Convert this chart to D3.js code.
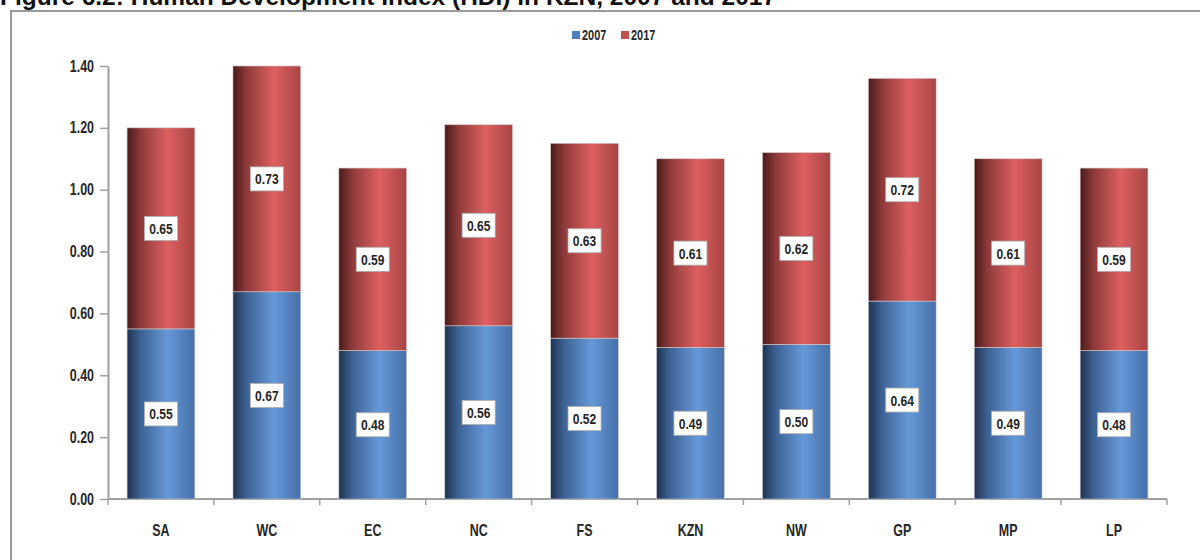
<!DOCTYPE html>
<html>
<head>
<meta charset="utf-8">
<script src="https://cdn.jsdelivr.net/npm/d3@7"></script>
<style>
  html, body { margin: 0; padding: 0; background: #fff; }
  svg { display: block; }
  .cond { font-family: "Liberation Sans", Arial, sans-serif; font-weight: bold; }
</style>
</head>
<body>
<svg id="chart" width="1200" height="560"></svg>
<script>
const categories = ["SA", "WC", "EC", "NC", "FS", "KZN", "NW", "GP", "MP", "LP"];
const series2007 = [0.55, 0.67, 0.48, 0.56, 0.52, 0.49, 0.50, 0.64, 0.49, 0.48];
const series2017 = [0.65, 0.73, 0.59, 0.65, 0.63, 0.61, 0.62, 0.72, 0.61, 0.59];
const seriesNames = ["2007", "2017"];
const yTicks = [0, 0.2, 0.4, 0.6, 0.8, 1.0, 1.2, 1.4];
const title = "Figure 6.2: Human Development Index (HDI) in KZN, 2007 and 2017";

const svg = d3.select("#chart");
const NARROW = 0.78;

// condensed text helper
function ctext(sel, x, y, txt, size, anchor) {
  return sel.append("text").attr("class", "cond").attr("font-size", size).attr("fill", "#262626")
    .attr("text-anchor", anchor || "start")
    .attr("transform", `translate(${x},${y}) scale(${NARROW},1)`).text(txt);
}

// gradients
const defs = svg.append("defs");
function grad(id, stops) {
  const g = defs.append("linearGradient").attr("id", id)
    .attr("x1", "0%").attr("x2", "100%").attr("y1", "0%").attr("y2", "0%");
  stops.forEach(s => g.append("stop").attr("offset", s[0]).attr("stop-color", s[1]));
}
grad("gBlue", [["0%", "#1f3350"], ["20%", "#3d6293"], ["60%", "#6698d8"], ["100%", "#4670a8"]]);
grad("gRed", [["0%", "#4a1a1a"], ["20%", "#8e3a3a"], ["60%", "#dd6060"], ["100%", "#a84444"]]);

// title and frame
svg.append("text").attr("x", 0).attr("y", 5)
  .attr("font-family", "Liberation Sans, Arial, sans-serif")
  .attr("font-weight", "bold").attr("font-size", 24.5).attr("fill", "#111")
  .text(title);
svg.append("rect").attr("x", 11).attr("y", 11).attr("width", 1200).attr("height", 560)
  .attr("fill", "none").attr("stroke", "#9a9a9a").attr("stroke-width", 2);

const x = d3.scaleBand().domain(categories).range([108, 1167]).paddingInner(0.36).paddingOuter(0.18);
const y = d3.scaleLinear().domain([0, 1.4]).range([499, 66]);

// y axis
const yAxis = svg.append("g").attr("transform", "translate(108,0)")
  .call(d3.axisLeft(y).tickValues(yTicks).tickFormat("").tickSize(8).tickSizeOuter(0));
yAxis.select(".domain").attr("stroke", "#a0a0a0").attr("stroke-width", 2);
yAxis.selectAll(".tick line").attr("stroke", "#a0a0a0").attr("stroke-width", 1.5);
const ylab = svg.append("g");
yTicks.forEach(t => ctext(ylab, 94, y(t) + 5.5, d3.format(".2f")(t), 16, "end"));

// x axis
const bounds = categories.map((c, i) => 108 + i * (1167 - 108) / categories.length).concat([1167]);
const xg = svg.append("g");
xg.append("line").attr("x1", 108).attr("x2", 1167).attr("y1", 499).attr("y2", 499)
  .attr("stroke", "#a0a0a0").attr("stroke-width", 2);
xg.selectAll("line.t").data(bounds).enter().append("line")
  .attr("x1", d => d).attr("x2", d => d).attr("y1", 499).attr("y2", 505)
  .attr("stroke", "#a0a0a0").attr("stroke-width", 1.5);
categories.forEach(c => ctext(xg, x(c) + x.bandwidth() / 2, 536, c, 16, "middle"));

// bars
const rows = categories.map((c, i) => ({ c, a: series2007[i], b: series2017[i] }));
const g = svg.append("g");
g.selectAll("rect.a").data(rows).enter().append("rect")
  .attr("x", d => x(d.c)).attr("width", x.bandwidth())
  .attr("y", d => y(d.a)).attr("height", d => y(0) - y(d.a))
  .attr("fill", "url(#gBlue)").attr("stroke", "#c8ccd4").attr("stroke-width", 0.6);
g.selectAll("rect.b").data(rows).enter().append("rect")
  .attr("x", d => x(d.c)).attr("width", x.bandwidth())
  .attr("y", d => y(d.a + d.b)).attr("height", d => y(d.a) - y(d.a + d.b))
  .attr("fill", "url(#gRed)").attr("stroke", "#d4c8c8").attr("stroke-width", 0.6);

// labels
function label(cx, cy, txt) {
  const w = 33, h = 24;
  g.append("rect").attr("x", cx - w / 2).attr("y", cy - h / 2).attr("width", w).attr("height", h)
    .attr("fill", "#fff").attr("stroke", "#b0b0b0").attr("stroke-width", 0.8);
  ctext(g, cx, cy + 5.5, txt, 15.5, "middle");
}
rows.forEach(d => {
  const cx = x(d.c) + x.bandwidth() / 2;
  label(cx, (y(0) + y(d.a)) / 2, d3.format(".2f")(d.a));
  label(cx, (y(d.a) + y(d.a + d.b)) / 2, d3.format(".2f")(d.b));
});

// legend
const leg = svg.append("g");
const legItems = [{ n: seriesNames[0], c: "#4f81bd", x: 572 }, { n: seriesNames[1], c: "#c0504d", x: 621 }];
legItems.forEach(it => {
  leg.append("rect").attr("x", it.x).attr("y", 31).attr("width", 8).attr("height", 8).attr("fill", it.c);
  ctext(leg, it.x + 10, 40, it.n, 14, "start");
});
</script>
</body>
</html>
